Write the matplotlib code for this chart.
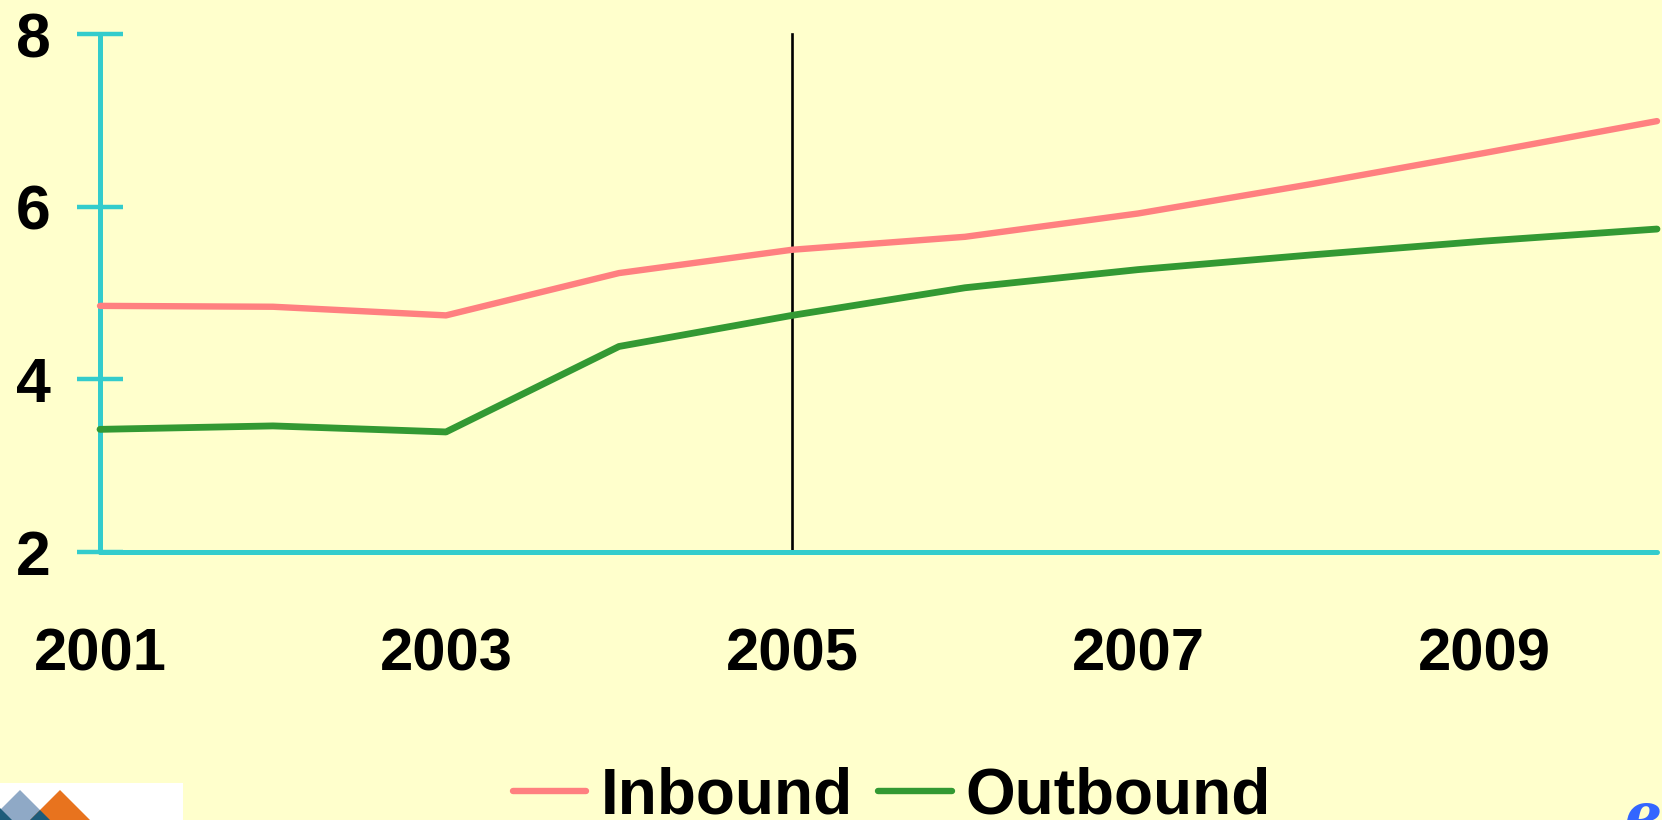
import matplotlib
matplotlib.use("Agg")
import matplotlib.pyplot as plt
from matplotlib.patches import Polygon, Rectangle

plt.rcParams['font.family'] = ['Liberation Sans', 'DejaVu Sans']
plt.rcParams['font.weight'] = 'bold'

# ---- data ----
years = [2001, 2002, 2003, 2004, 2005, 2006, 2007, 2008, 2009, 2010]
inbound = [4.85, 4.84, 4.74, 5.23, 5.50, 5.65, 5.92, 6.26, 6.62, 6.99]
outbound = [3.42, 3.46, 3.39, 4.38, 4.74, 5.06, 5.27, 5.44, 5.60, 5.74]
x_ticks = [2001, 2003, 2005, 2007, 2009]
x_tick_labels = ["2001", "2003", "2005", "2007", "2009"]
y_ticks = [2, 4, 6, 8]
y_tick_labels = ["2", "4", "6", "8"]
marker_year = 2005
series_names = ["Inbound", "Outbound"]

BG = '#FFFFCC'
CYAN = '#33CCCC'
PINK = '#FF8080'
GREEN = '#339933'

W, H = 1662, 820
fig = plt.figure(figsize=(W / 100, H / 100 + 0.001), dpi=100, facecolor=BG)

# background / decoration layer in pixel coordinates
deco = fig.add_axes([0, 0, 1, 1], zorder=0)
deco.set_xlim(0, W)
deco.set_ylim(H, 0)
deco.axis('off')
deco.set_facecolor(BG)
deco.add_patch(Rectangle((0, 783), 183, 40, facecolor='white', edgecolor='none'))
deco.add_patch(Polygon([(20, 790), (50, 820), (-10, 820)], closed=True,
                       facecolor='#8FA9C6', edgecolor='none'))
deco.add_patch(Polygon([(60, 790), (90, 820), (30, 820)], closed=True,
                       facecolor='#E8731E', edgecolor='none'))
deco.add_patch(Polygon([(40, 810), (50, 820), (30, 820)], closed=True,
                       facecolor='#1E5C7A', edgecolor='none'))
deco.add_patch(Polygon([(0, 808), (12, 820), (0, 820)], closed=True,
                       facecolor='#1E5C7A', edgecolor='none'))
deco.text(1624, 834, "ec", color='#3366FF', fontsize=42, family='DejaVu Serif',
          style='italic', fontweight='bold', ha='left', va='baseline', clip_on=True)

# main axes
left, right, top, bottom = 100, 1657, 34, 552
ax = fig.add_axes([left / W, 1 - bottom / H, (right - left) / W, (bottom - top) / H], zorder=1)
ax.set_facecolor('none')
ax.set_xlim(years[0], years[-1])
ax.set_ylim(y_ticks[0], y_ticks[-1])

ax.plot(years, inbound, color=PINK, lw=4.6, solid_capstyle='round',
        solid_joinstyle='round', clip_on=False, zorder=3, label=series_names[0])
ax.plot(years, outbound, color=GREEN, lw=4.9, solid_capstyle='round',
        solid_joinstyle='round', clip_on=False, zorder=3, label=series_names[1])
ax.plot([marker_year, marker_year], [y_ticks[0], y_ticks[-1]], color='black',
        lw=1.9, zorder=2, clip_on=False)

for s in ['top', 'right']:
    ax.spines[s].set_visible(False)
for s in ['left', 'bottom']:
    ax.spines[s].set_color(CYAN)
    ax.spines[s].set_linewidth(3.6)
    ax.spines[s].set_capstyle('round')

ax.set_xticks(x_ticks)
ax.set_xticklabels(x_tick_labels)
ax.set_yticks(y_ticks)
ax.set_yticklabels(y_tick_labels)
ax.tick_params(axis='x', length=0, pad=54, labelsize=43, labelcolor='black')
ax.tick_params(axis='y', direction='inout', length=33, width=3.2, color=CYAN,
               pad=19, labelsize=45, labelcolor='black')
for t in ax.get_yticklines():
    t.set_solid_capstyle('round')
for lab in ax.get_xticklabels() + ax.get_yticklabels():
    lab.set_fontweight('bold')

leg = fig.legend(loc='center', bbox_to_anchor=(892 / W, 1 - 796 / H), ncol=2,
                 frameon=False, fontsize=46, handlelength=1.15, handletextpad=0.22,
                 columnspacing=0.4, borderpad=0, borderaxespad=0)
for t in leg.get_texts():
    t.set_fontweight('bold')
for h in leg.get_lines():
    h.set_solid_capstyle('round')
    h.set_linewidth(4.6)

fig.savefig('out.png', dpi=100, facecolor=BG)
